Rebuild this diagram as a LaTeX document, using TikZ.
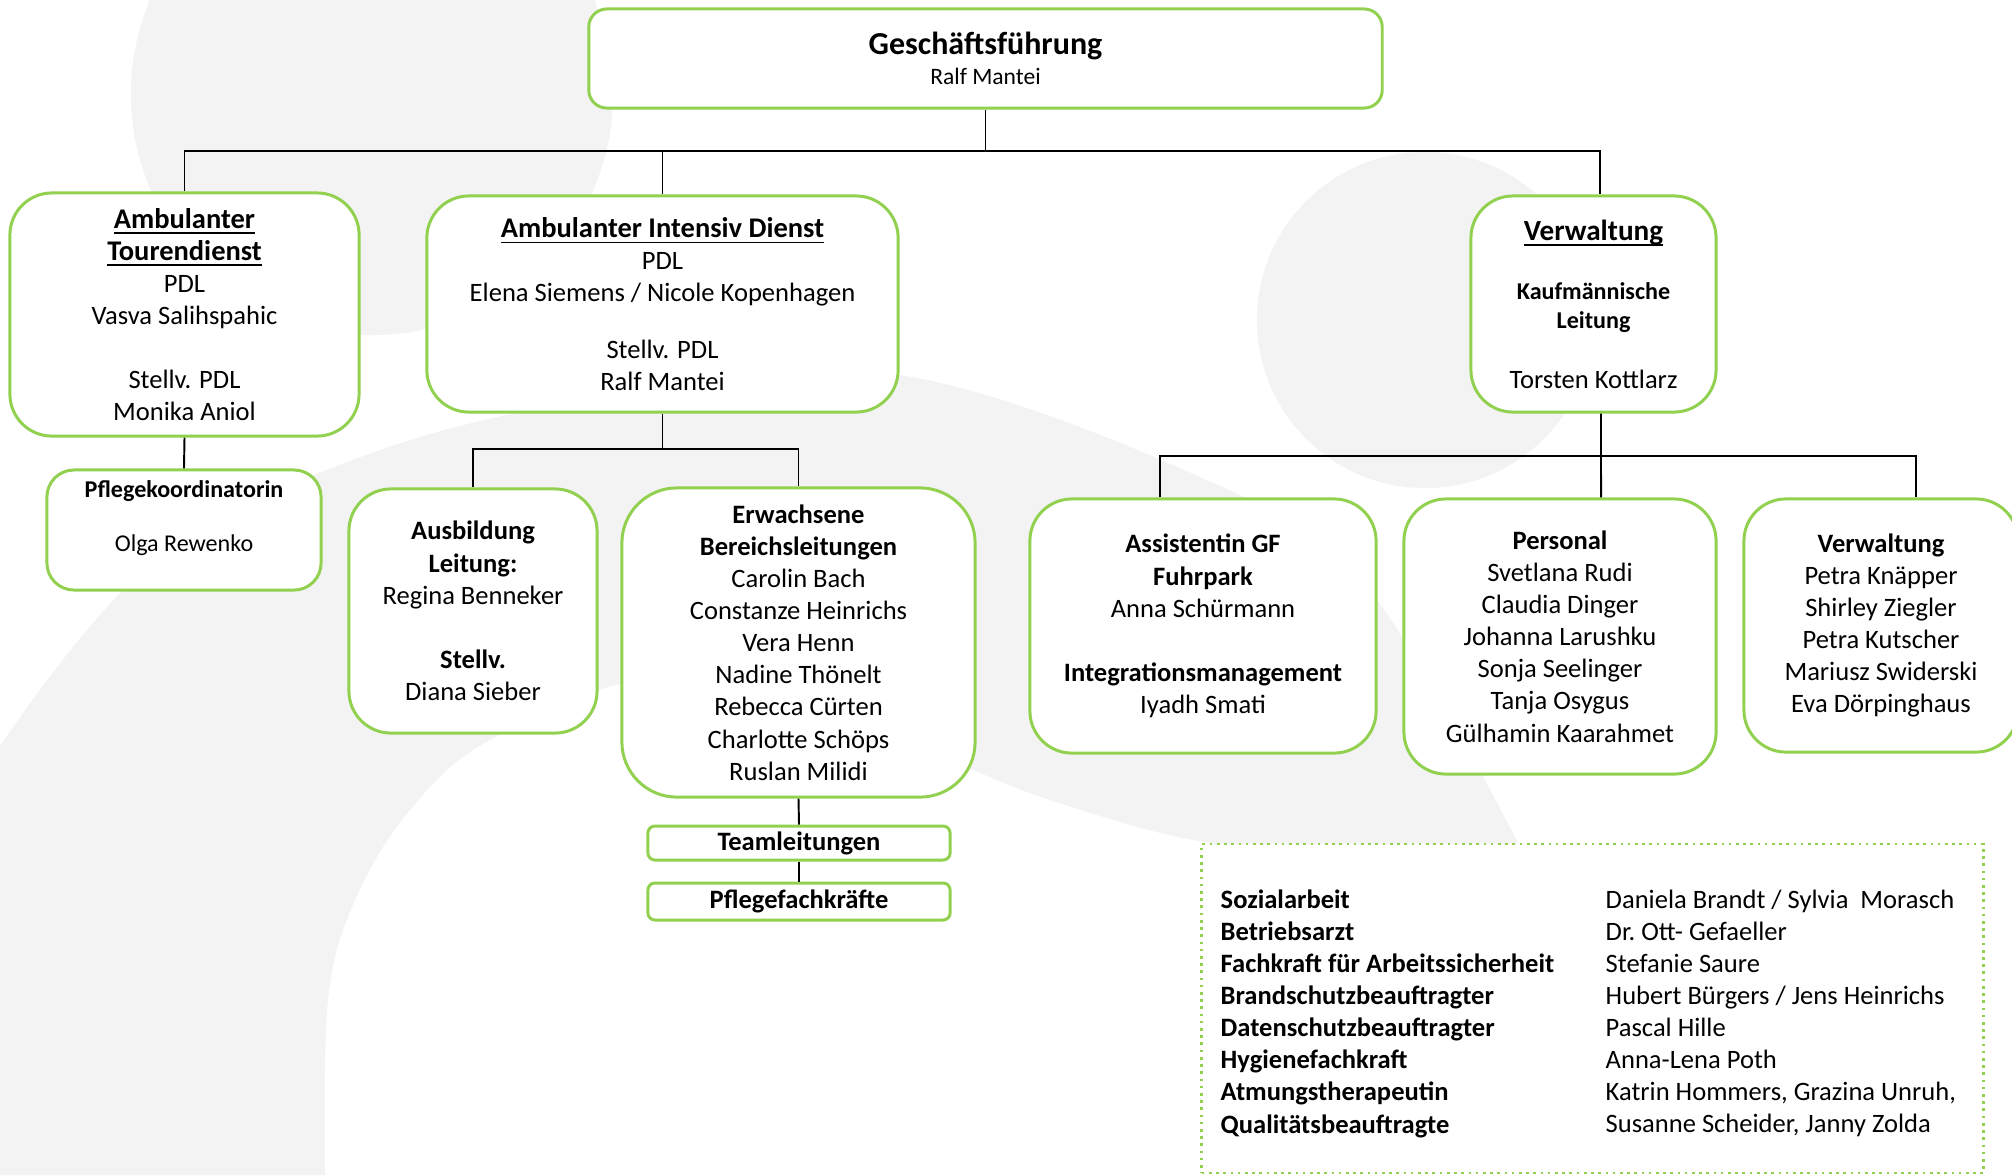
\documentclass[tikz,border=0pt]{standalone}
\usepackage{fontspec}
\setmainfont{Carlito}
\usepackage{tikz}
\usetikzlibrary{positioning}
\definecolor{lgreen}{RGB}{146,208,80}
\definecolor{bggray}{RGB}{243,243,243}
\newcommand{\hdfont}{\fontsize{8.1}{9.13}\selectfont\bfseries}
\newcommand{\smfont}{\fontsize{6.85}{8.2}\selectfont}
\newcommand{\gffont}{\fontsize{9.1}{10}\selectfont\bfseries}
\newcommand{\ulx}[1]{\underline{\smash{#1}}\vphantom{#1}}
\tikzset{orgbox/.style={draw=lgreen, fill=white, line width=0.85pt, rounded corners=0.42cm, align=center, inner sep=0pt},
flatbox/.style={orgbox, rounded corners=0.07cm},
conn/.style={draw=black, line width=0.55pt},
infobox/.style={draw=lgreen, fill=white, line width=0.75pt, dash pattern=on 0.75pt off 1.3pt},
cell/.style={anchor=north west, align=left, inner sep=0pt},}

\begin{document}
\begin{tikzpicture}[x=0.01cm, y=-0.01cm, font=\fontsize{7.55}{9.13}\selectfont]
\useasboundingbox (0,0) rectangle (2012,1175);
\clip (0,0) rectangle (2012,1175);
\fill[bggray] (372,94) circle [radius=2.41cm];
\fill[bggray] (1425,320) circle [radius=1.68cm];
\fill[bggray] plot[smooth, tension=0.6] coordinates {(0,746) (153,563) (383,449) (640,392) (900,375) (1200,477) (1365,585) (1519,845)}
  -- plot[smooth, tension=0.6] coordinates {(1519,845) (1250,848) (1050,800) (850,720) (650,680) (490,740) (410,810) (355,900) (328,1000) (325,1175)}
  -- (0,1175) -- cycle;

\node [orgbox, rounded corners=0.18cm, minimum width=7.93cm, minimum height=0.99cm] (gf) at (985.5,58.5) {{\gffont Geschäftsführung}\\[-0.6pt]{\fontsize{6.7}{8}\selectfont Ralf Mantei}};
\node [orgbox, minimum width=3.49cm, minimum height=2.43cm] (atd) at (184.5,314.5) {{\hdfont\ulx{Ambulanter}}\\{\hdfont\ulx{Tourendienst}}\\PDL\\Vasva Salihspahic\\[9.13pt]Stellv. PDL\\Monika Aniol};
\node [orgbox, minimum width=4.71cm, minimum height=2.16cm] (aid) at (662.5,304) {{\hdfont\ulx{Ambulanter Intensiv Dienst}}\\PDL\\Elena Siemens / Nicole Kopenhagen\\[6.95pt]Stellv. PDL\\Ralf Mantei};
\node [orgbox, minimum width=2.45cm, minimum height=2.16cm] (ver) at (1593.5,304) {{\fontsize{8.3}{9}\selectfont\bfseries\ulx{Verwaltung}}\\[7.7pt]{\smfont\bfseries Kaufmännische}\\[-0.7pt]{\smfont\bfseries Leitung}\\[7.7pt]Torsten Kottlarz};
\node [orgbox, rounded corners=0.27cm, minimum width=2.74cm, minimum height=1.2cm] (pk) at (184,530) {{\smfont\bfseries Pflegekoordinatorin}\\[6.2pt]{\smfont Olga Rewenko}\\[-1.4pt]\mbox{}};
\node [orgbox, minimum width=2.48cm, minimum height=2.44cm] (aus) at (473,611) {\textbf{Ausbildung}\\\textbf{Leitung:}\\Regina Benneker\\[9.13pt]\textbf{Stellv.}\\Diana Sieber};
\node [orgbox, rounded corners=0.55cm, minimum width=3.53cm, minimum height=3.09cm] (erw) at (798.5,642.5) {\textbf{Erwachsene}\\\textbf{Bereichsleitungen}\\Carolin Bach\\Constanze Heinrichs\\Vera Henn\\Nadine Thönelt\\Rebecca Cürten\\Charlotte Schöps\\Ruslan Milidi};
\node [flatbox, minimum width=3.02cm, minimum height=0.34cm] (tl) at (799,843) {\textbf{Teamleitungen}};
\node [flatbox, minimum width=3.02cm, minimum height=0.37cm] (pf) at (799,901.5) {\textbf{Pflegefachkräfte}};
\node [orgbox, minimum width=3.46cm, minimum height=2.54cm] (ass) at (1203,626) {\textbf{Assistentin GF}\\\textbf{Fuhrpark}\\Anna Schürmann\\[9.13pt]\textbf{Integrationsmanagement}\\Iyadh Smati};
\node [orgbox, minimum width=3.12cm, minimum height=2.75cm] (per) at (1560,636.5) {\textbf{Personal}\\Svetlana Rudi\\Claudia Dinger\\Johanna Larushku\\Sonja Seelinger\\Tanja Osygus\\Gülhamin Kaarahmet};
\node [orgbox, minimum width=2.74cm, minimum height=2.53cm] (vw) at (1881,625.5) {\textbf{Verwaltung}\\Petra Knäpper\\Shirley Ziegler\\Petra Kutscher\\Mariusz Swiderski\\Eva Dörpinghaus};

\node [infobox, minimum width=7.81cm, minimum height=3.29cm] (info) at (1592.5,1008.5) {};
\node [cell, font=\fontsize{7.55}{9.13}\selectfont\bfseries] (roles) at (1220,889) {Sozialarbeit\\Betriebsarzt\\Fachkraft für Arbeitssicherheit\\Brandschutzbeauftragter\\Datenschutzbeauftragter\\Hygienefachkraft\\Atmungstherapeutin\\Qualitätsbeauftragte};
\node [cell] (names) at (1605,889) {Daniela Brandt / Sylvia\ \ Morasch\\Dr.\ Ott- Gefaeller\\Stefanie Saure\\Hubert Bürgers / Jens Heinrichs\\Pascal Hille\\Anna-Lena Poth\\Katrin Hommers, Grazina Unruh,\\Susanne Scheider, Janny Zolda};

\coordinate (bus) at (985.5,151);
\coordinate (bus2) at (662.5,449);
\coordinate (bus3) at (1601,456);
\draw[conn] (gf.south) -- (bus);
\draw[conn] (atd.north) |- (bus) -| ([xshift=0.065cm]ver.north);
\draw[conn] (aid.north) -- (aid.north |- bus);
\draw[conn] (atd.south) -- (pk.north);
\draw[conn] (aid.south) -- (bus2);
\draw[conn] (aus.north) |- (bus2) -| (erw.north);
\draw[conn] (erw.south) -- (tl.north);
\draw[conn] (tl.south) -- (pf.north);
\draw[conn] ([xshift=0.075cm]ver.south) -- (bus3);
\draw[conn] ([xshift=-0.43cm]ass.north) |- (bus3) -| ([xshift=0.35cm]vw.north);
\draw[conn] ([xshift=0.41cm]per.north) -- (bus3);
\end{tikzpicture}
\end{document}
